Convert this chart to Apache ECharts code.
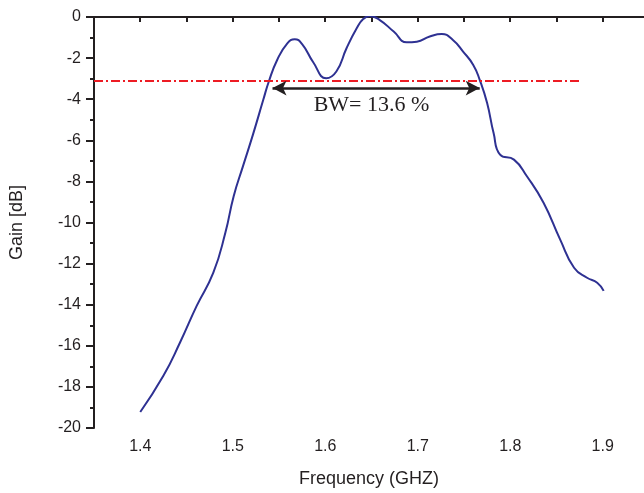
<!DOCTYPE html>
<html>
<head>
<meta charset="utf-8">
<script src="https://cdn.jsdelivr.net/npm/echarts@6/dist/echarts.min.js"></script>
<style>
  html, body { margin: 0; padding: 0; background: #fff; }
  #chart { width: 644px; height: 493px; }
</style>
</head>
<body>
<div id="chart"></div>
<script>
// measured gain curve (GHz, dB)
var freq = [1.400, 1.425, 1.443, 1.461, 1.479, 1.492, 1.501, 1.511, 1.522, 1.533,
            1.539, 1.548, 1.559, 1.567, 1.575, 1.587, 1.601, 1.612, 1.623, 1.634,
            1.641, 1.648, 1.659, 1.674, 1.688, 1.699, 1.713, 1.726, 1.738, 1.749,
            1.760, 1.767, 1.775, 1.782, 1.789, 1.804, 1.818, 1.836, 1.854, 1.869,
            1.883, 1.894, 1.901];
var gain = [-19.22, -17.46, -15.84, -14.06, -12.44, -10.5, -8.72, -7.27, -5.70, -4.03,
            -3.14, -2.09, -1.28, -1.08, -1.32, -2.2, -2.98, -2.65, -1.52, -0.55,
            -0.1, 0.05, -0.15, -0.71, -1.23, -1.2, -0.95, -0.83, -1.12, -1.68,
            -2.33, -3.06, -4.19, -5.65, -6.70, -6.94, -7.75, -9.04, -10.83, -12.2,
            -12.69, -12.93, -13.33];

// -3 dB reference line and bandwidth arrow
var refLevel = -3.1;
var refLineX = [1.35, 1.875];
var bwArrowX = [1.543, 1.767];
var bwArrowY = -3.46;
var bwText = 'BW= 13.6 %';
var bwTextPos = [1.65, -4.3];

var ink = '#231f20';

var option = {
    animation: false,
    grid: { left: 94, right: 0, top: 17, bottom: 64 },
    xAxis: {
        type: 'value',
        min: 1.35,
        max: 1.9446,
        interval: 0.05,
        name: 'Frequency (GHZ)',
        nameLocation: 'middle',
        nameGap: 42,
        nameTextStyle: { color: ink, fontSize: 18, fontFamily: 'Liberation Sans' },
        axisLine: { lineStyle: { color: ink, width: 2 } },
        axisTick: { inside: false, length: 5, lineStyle: { color: ink, width: 2 } },
        axisLabel: {
            color: ink, fontSize: 16, fontFamily: 'Liberation Sans', margin: 11,
            showMaxLabel: false,
            formatter: function (v) {
                var t = v * 10;
                return Math.abs(t - Math.round(t)) < 1e-6 ? v.toFixed(1) : '';
            }
        },
        splitLine: { show: false }
    },
    yAxis: {
        type: 'value',
        min: -20,
        max: 0,
        interval: 2,
        name: 'Gain [dB]',
        nameLocation: 'middle',
        nameGap: 68,
        nameRotate: 90,
        nameTextStyle: { color: ink, fontSize: 18, fontFamily: 'Liberation Sans' },
        axisLine: { show: true, lineStyle: { color: ink, width: 2 } },
        axisTick: { show: true, length: 8, lineStyle: { color: ink, width: 2 } },
        minorTick: { show: true, splitNumber: 2, length: 4, lineStyle: { color: ink, width: 2 } },
        axisLabel: { color: ink, fontSize: 16, fontFamily: 'Liberation Sans', margin: 13 },
        splitLine: { show: false }
    },
    series: [
        {
            name: 'gain',
            type: 'line',
            data: freq.map(function (f, i) { return [f, gain[i]]; }),
            smooth: 0.5,
            showSymbol: false,
            lineStyle: { color: '#2e3192', width: 2 },
            z: 3
        },
        {
            name: 'ref',
            type: 'line',
            data: [],
            markLine: {
                silent: true,
                symbol: ['none', 'none'],
                label: { show: false },
                lineStyle: { color: '#ed1c24', width: 2, type: [9, 3, 2, 3] },
                data: [[{ coord: [refLineX[0], refLevel] }, { coord: [refLineX[1], refLevel] }]]
            }
        },
        {
            name: 'bw',
            type: 'line',
            data: [],
            markLine: {
                silent: true,
                symbol: ['arrow', 'arrow'],
                symbolSize: [11, 14],
                label: { show: false },
                lineStyle: { color: ink, width: 2.5, type: 'solid' },
                data: [[{ coord: [bwArrowX[0], bwArrowY] }, { coord: [bwArrowX[1], bwArrowY] }]]
            },
            markPoint: {
                silent: true,
                symbol: 'circle',
                symbolSize: 0,
                label: {
                    show: true,
                    position: 'inside',
                    formatter: bwText,
                    color: ink,
                    fontSize: 22,
                    fontFamily: 'Liberation Serif'
                },
                data: [{ coord: bwTextPos }]
            }
        }
    ]
};

var chart = echarts.init(document.getElementById('chart'));
chart.setOption(option);
</script>
</body>
</html>
